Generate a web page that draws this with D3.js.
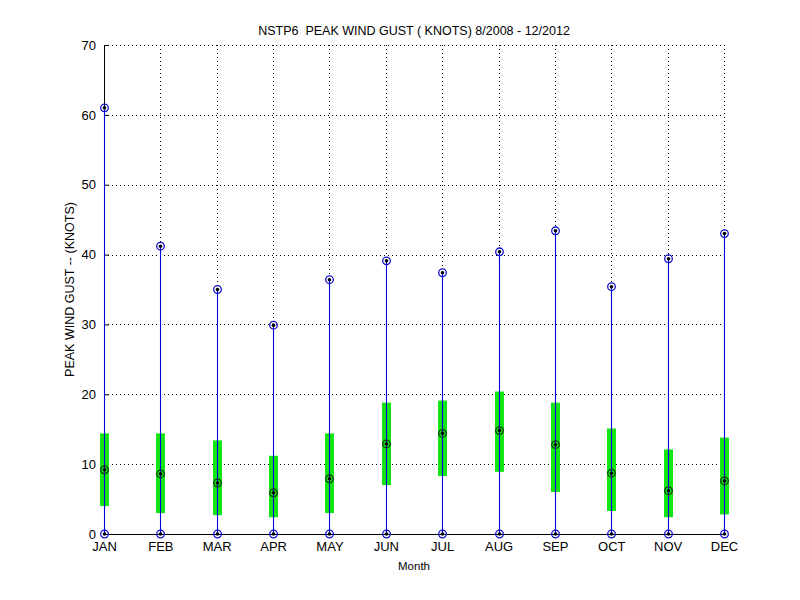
<html>
<head>
<script src="https://d3js.org/d3.v7.min.js"></script>
<style>
  body { margin: 0; background: #fff; }
  text { font-family: "Liberation Sans", Arial, sans-serif; white-space: pre; }
</style>
</head>
<body>
<script>
// monthly peak wind gust stats (knots)
var months = ["JAN","FEB","MAR","APR","MAY","JUN","JUL","AUG","SEP","OCT","NOV","DEC"];
var maxVals = [61.0, 41.2, 35.0, 29.9, 36.4, 39.1, 37.4, 40.4, 43.4, 35.4, 39.4, 43.0];
var minVals = [0, 0, 0, 0, 0, 0, 0, 0, 0, 0, 0, 0];
var q3Vals  = [14.4, 14.4, 13.4, 11.2, 14.4, 18.8, 19.1, 20.4, 18.8, 15.1, 12.1, 13.8];
var q1Vals  = [4.0, 3.0, 2.7, 2.4, 3.0, 7.0, 8.3, 8.9, 6.0, 3.3, 2.4, 2.8];
var medVals = [9.2, 8.6, 7.3, 5.9, 7.9, 12.9, 14.4, 14.8, 12.8, 8.7, 6.2, 7.6];
var yTicks = [0, 10, 20, 30, 40, 50, 60, 70];

var W = 800, H = 600;
var margin = {top: 45, right: 76, bottom: 66, left: 104},
    width = W - margin.left - margin.right,
    height = H - margin.top - margin.bottom;

var svg = d3.select("body").append("svg")
    .attr("width", W).attr("height", H)
  .append("g")
    .attr("transform", "translate(" + margin.left + "," + margin.top + ")");

var x = d3.scalePoint().domain(months).range([0, width]);
var y = d3.scaleLinear().domain([0, 70]).range([height, 0]);
// snap to pixel centres so 1px lines stay crisp
function px(v) { return Math.round(v) + 0.5; }

var idx = d3.range(months.length);

// dotted grid (vertical ones only show above the data line, as the line hides them anyway)
svg.append("g").selectAll("line.gx").data(idx).enter().append("line")
    .attr("x1", function(i) { return px(x(months[i])); })
    .attr("x2", function(i) { return px(x(months[i])); })
    .attr("y1", 0).attr("y2", function(i) { return y(maxVals[i]) - 4; })
    .attr("stroke", "#000").attr("stroke-width", 1).attr("stroke-dasharray", "1,3");
svg.append("g").selectAll("line.gy").data(yTicks).enter().append("line")
    .attr("x1", 0).attr("x2", width)
    .attr("y1", function(d) { return px(y(d)); }).attr("y2", function(d) { return px(y(d)); })
    .attr("stroke", "#000").attr("stroke-width", 1).attr("stroke-dasharray", "1,3");

// axes (ticks inward, like matlab)
var gx = svg.append("g")
    .attr("transform", "translate(0," + height + ")")
    .call(d3.axisBottom(x).tickSizeInner(-5).tickSizeOuter(0).tickPadding(10));
var gy = svg.append("g")
    .call(d3.axisLeft(y).tickValues(yTicks).tickSizeInner(-5).tickSizeOuter(0).tickPadding(8));
[gx, gy].forEach(function(g) {
  g.selectAll("text").style("font-size", "13px").attr("fill", "#000")
      .style("font-family", "'Liberation Sans', Arial, sans-serif");
  g.select(".domain").attr("stroke", "#000");
  g.selectAll(".tick line").attr("stroke", "#000");
});
gx.selectAll("text").attr("dy", "0.55em");
gx.selectAll(".tick line").remove();

// green interquartile bars
svg.append("g").selectAll("rect").data(idx).enter().append("rect")
    .attr("x", function(i) { return Math.round(x(months[i])) - 4; })
    .attr("width", 9)
    .attr("y", function(i) { return y(q3Vals[i]); })
    .attr("height", function(i) { return y(q1Vals[i]) - y(q3Vals[i]); })
    .attr("fill", "#14e614");

// blue range lines
svg.append("g").selectAll("line").data(idx).enter().append("line")
    .attr("x1", function(i) { return px(x(months[i])); })
    .attr("x2", function(i) { return px(x(months[i])); })
    .attr("y1", function(i) { return y(minVals[i]); })
    .attr("y2", function(i) { return y(maxVals[i]); })
    .attr("stroke", "#0000e0").attr("stroke-width", 1.1);

function markers(vals, col) {
  var g = svg.append("g");
  g.selectAll("circle.o").data(idx).enter().append("circle")
      .attr("cx", function(i) { return px(x(months[i])); })
      .attr("cy", function(i) { return y(vals[i]); })
      .attr("r", 3.8).attr("fill", "none")
      .attr("stroke", col).attr("stroke-width", 1.3);
  g.selectAll("circle.d").data(idx).enter().append("circle")
      .attr("cx", function(i) { return px(x(months[i])); })
      .attr("cy", function(i) { return y(vals[i]); })
      .attr("r", 1.8).attr("fill", "#000");
}
markers(maxVals, "#1010c8");
markers(minVals, "#1010c8");
markers(medVals, "#0a3a0a");

// title and labels
svg.append("text")
    .attr("x", width / 2).attr("y", -10)
    .attr("text-anchor", "middle")
    .attr("xml:space", "preserve")
    .style("font-size", "12.5px")
    .text("NSTP6  PEAK WIND GUST ( KNOTS) 8/2008 - 12/2012");

svg.append("text")
    .attr("x", width / 2).attr("y", height + 36)
    .attr("text-anchor", "middle")
    .style("font-size", "11.5px")
    .text("Month");

svg.append("text")
    .attr("transform", "rotate(-90)")
    .attr("x", -height / 2).attr("y", -30)
    .attr("text-anchor", "middle")
    .style("font-size", "12.5px")
    .text("PEAK WIND GUST -- (KNOTS)");
</script>
</body>
</html>
